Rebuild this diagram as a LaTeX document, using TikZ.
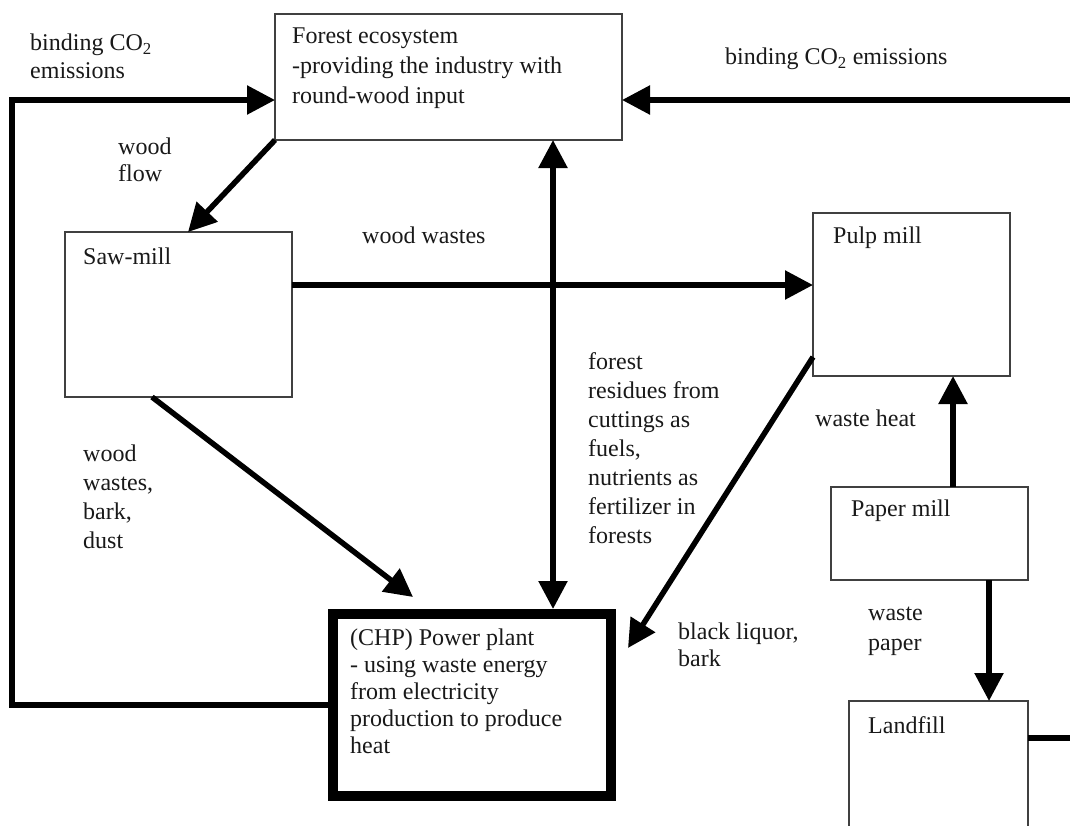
\documentclass[tikz,border=0pt]{standalone}
\usepackage{fontspec}
\setmainfont{Liberation Serif}
\usetikzlibrary{arrows.meta,calc}
\begin{document}
\begin{tikzpicture}[x=1pt,y=-1pt,
  box/.style={draw=black!75,line width=1.4pt,inner sep=0pt,outer sep=0pt,anchor=north west},
  bigbox/.style={draw=black,line width=10pt,inner sep=0pt,outer sep=5pt,anchor=north west},
  txt/.style={anchor=north west,inner sep=0pt,align=left,font=\fontsize{24}{28}\selectfont,text=black!90},
  flow/.style={line width=5.5pt,-{Triangle[length=28pt,width=28pt]}},
  flowboth/.style={line width=5.5pt,{Triangle[length=28pt,width=28pt]}-{Triangle[length=28pt,width=28pt]}},
  plain/.style={line width=5.5pt}]
\useasboundingbox (0,0) rectangle (1070,825);
\clip (0,0) rectangle (1070,825);
\fill[white] (0,0) rectangle (1070,825);
% boxes
\node[box,minimum width=347,minimum height=126] (forest) at (275,14) {};
\node[box,minimum width=227,minimum height=165] (saw) at (65,232) {};
\node[box,minimum width=197,minimum height=163] (pulp) at (813,213) {};
\node[box,minimum width=197,minimum height=93] (paper) at (831,487) {};
\node[box,minimum width=179,minimum height=140] (landfill) at (849,701) {};
\node[bigbox,minimum width=278,minimum height=182] (power) at (328,609) {};
% texts
\node[txt] (tco2l) at (30,34) {binding CO\textsubscript{2}\\emissions};
\node[txt] (tco2r) at (725,48) {binding CO\textsubscript{2} emissions};
\node[txt,font=\fontsize{24}{30}\selectfont] (tforest) at (292,28) {Forest ecosystem\\-providing the industry with\\round-wood input};
\node[txt,font=\fontsize{24}{27}\selectfont] (twflow) at (118,138) {wood\\flow};
\node[txt] (twwastes) at (362,227) {wood wastes};
\node[txt] (tsaw) at (83,248) {Saw-mill};
\node[txt] (tpulp) at (833,227) {Pulp mill};
\node[txt,font=\fontsize{24}{29}\selectfont] (twbark) at (83,445) {wood\\wastes,\\bark,\\dust};
\node[txt,font=\fontsize{24}{29}\selectfont] (tresid) at (588,352) {forest\\residues from\\cuttings as\\fuels,\\nutrients as\\fertilizer in\\forests};
\node[txt] (theat) at (815,410) {waste heat};
\node[txt] (tpaper) at (851,500) {Paper mill};
\node[txt,font=\fontsize{24}{27}\selectfont] (tliquor) at (678,623) {black liquor,\\bark};
\node[txt,font=\fontsize{24}{30}\selectfont] (twpaper) at (868,607) {waste\\paper};
\node[txt] (tland) at (868,716) {Landfill};
\node[txt,font=\fontsize{24}{27}\selectfont] (tpower) at (350,629) {(CHP) Power plant\\- using waste energy\\from electricity\\production to produce\\heat};
% helper coordinates
\coordinate (fin) at ($(forest.south west)+(0,-40)$);
\coordinate (fout) at ($(forest.south east)+(0,-40)$);
\coordinate (leftx) at (12,0);
\coordinate (rightx) at (1075,0);
\coordinate (vx) at (553,0);
% connectors
\draw[flow] (power.west) -- (power.west -| leftx) -- (fin -| leftx) -- (fin);
\draw[flow] (fout -| rightx) -- (fout);
\draw[plain] ($(landfill.north east)+(0,37)$) -- ++(50,0);
\draw[flow] (forest.south west) -- ($(saw.north west)+(123,0)$);
\draw[flowboth] (forest.south -| vx) -- (power.north -| vx);
\draw[flow] ($(saw.north east)+(0,53)$) -- ($(pulp.north west)+(0,72)$);
\draw[flow] ($(saw.south west)+(87,0)$) -- ($(power.north west)+(85,-12)$);
\draw[flow] ($(pulp.south west)+(0,-19)$) -- ($(power.north east)+(12,39)$);
\draw[flow] ($(paper.north west)+(122,0)$) -- ($(pulp.south west)+(140,0)$);
\draw[flow] ($(paper.south west)+(158,0)$) -- ($(landfill.north west)+(140,0)$);
\end{tikzpicture}
\end{document}
